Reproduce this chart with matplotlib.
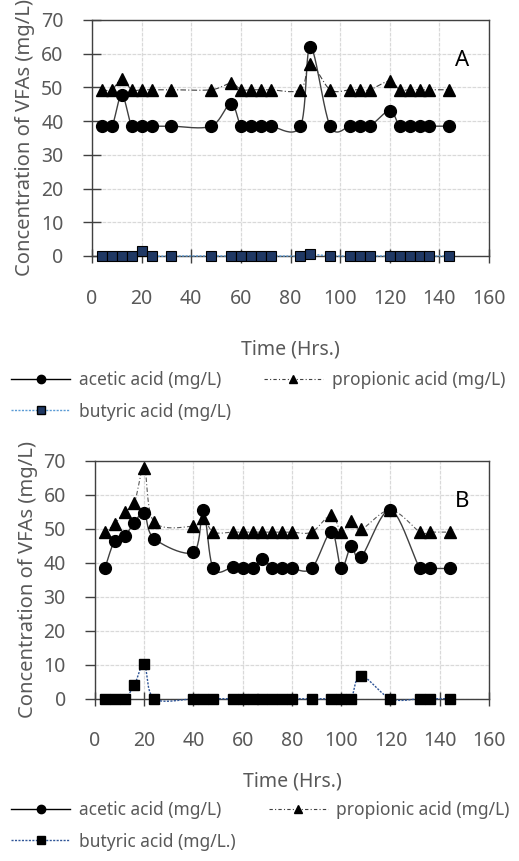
import numpy as np
import matplotlib
matplotlib.use("Agg")
import matplotlib.pyplot as plt
from matplotlib.lines import Line2D

plt.rcParams['font.family'] = ['Noto Sans', 'DejaVu Sans']

# sampling times (hours)
time_a = [4, 8, 12, 16, 20, 24, 32, 48, 56, 60, 64, 68, 72, 84, 88, 96, 104, 108, 112, 120, 124, 128, 132, 136, 144]
time_b = [4, 8, 12, 16, 20, 24, 40, 44, 48, 56, 60, 64, 68, 72, 76, 80, 88, 96, 100, 104, 108, 120, 132, 136, 144]

# concentrations (mg/L)
acetic_a = [38.5, 38.5, 47.8, 38.5, 38.5, 38.5, 38.5, 38.5, 45.2, 38.5, 38.5, 38.5, 38.5,
            38.5, 62.1, 38.5, 38.5, 38.5, 38.5, 43.1, 38.5, 38.5, 38.5, 38.5, 38.5]
propionic_a = [49.3, 49.3, 52.5, 49.3, 49.3, 49.3, 49.3, 49.3, 51.2, 49.3, 49.3, 49.3, 49.3,
               49.3, 57.0, 49.3, 49.3, 49.3, 49.3, 51.9, 49.3, 49.3, 49.3, 49.3, 49.3]
butyric_a = [0, 0, 0, 0, 1.6, 0, 0, 0, 0, 0, 0, 0, 0,
             0, 0.5, 0, 0, 0, 0, 0, 0, 0, 0, 0, 0]

acetic_b = [38.3, 46.5, 47.8, 51.8, 54.7, 47.1, 43.1, 55.5, 38.3, 38.7, 38.3, 38.3, 41.2,
            38.3, 38.3, 38.3, 38.3, 49.1, 38.3, 44.8, 41.6, 55.5, 38.3, 38.3, 38.3]
propionic_b = [49.0, 51.4, 54.9, 57.6, 68.0, 52.0, 50.8, 53.2, 49.0, 49.0, 49.0, 49.0, 49.0,
               49.0, 49.0, 49.0, 49.0, 54.1, 49.0, 52.4, 49.8, 55.5, 49.0, 49.0, 49.0]
butyric_b = [0, 0, 0, 4.0, 10.2, 0, 0, 0, 0, 0, 0, 0, 0,
             0, 0, 0, 0, 0, 0, 0, 6.8, 0, 0, 0, 0]

x_ticks = [0, 20, 40, 60, 80, 100, 120, 140, 160]
y_ticks = [0, 10, 20, 30, 40, 50, 60, 70]

TEXT_GRAY = '#595959'


def smooth(x, y, n=24):
    """Bezier smoothing through every point (spreadsheet 'smoothed line' style)."""
    p = np.column_stack([x, y]).astype(float)
    ext = np.vstack([p[0], p, p[-1]])
    t = np.linspace(0, 1, n)[:, None]
    out = []
    for i in range(len(p) - 1):
        p0, p3 = ext[i + 1], ext[i + 2]
        p1 = p0 + (ext[i + 2] - ext[i]) / 6.0
        p2 = p3 - (ext[i + 3] - ext[i + 1]) / 6.0
        seg = ((1 - t) ** 3) * p0 + 3 * ((1 - t) ** 2) * t * p1 + 3 * (1 - t) * t ** 2 * p2 + t ** 3 * p3
        out.append(seg if i == 0 else seg[1:])
    out = np.vstack(out)
    return out[:, 0], out[:, 1]


def draw_series(ax, x, y, line_kw, marker_kw):
    sx, sy = smooth(x, y)
    ax.plot(sx, sy, clip_on=False, zorder=3, **line_kw)
    ax.plot(x, y, linestyle='none', clip_on=False, zorder=4, **marker_kw)


def style_axes(ax, ytick_dir, ytick_len, xpad, xlabelpad):
    ax.set_xlim(0, 160)
    ax.set_ylim(0, 70)
    ax.set_xticks(x_ticks)
    ax.set_yticks(y_ticks)
    ax.grid(True, color='#d9d9d9', linewidth=0.9, linestyle=(0, (3, 1)))
    ax.set_axisbelow(True)
    for side in ['left', 'bottom', 'top', 'right']:
        ax.spines[side].set_color('#404040')
        ax.spines[side].set_linewidth(1.0)
    ax.tick_params(axis='x', direction='inout', length=10, width=1.0, color='#404040',
                   labelsize=14, labelcolor=TEXT_GRAY, pad=xpad)
    ax.tick_params(axis='y', direction=ytick_dir, length=ytick_len, width=1.0, color='#404040',
                   labelsize=14, labelcolor=TEXT_GRAY, pad=14)
    ax.set_xlabel('Time (Hrs.)', fontsize=14, color=TEXT_GRAY, labelpad=xlabelpad)
    ax.set_ylabel('Concentration of VFAs (mg/L)', fontsize=14.5, color=TEXT_GRAY, labelpad=4)


fig = plt.figure(figsize=(5.19, 8.61), dpi=100)
ax_a = fig.add_axes([0.1773, 0.7027, 0.7649, 0.2741])
ax_b = fig.add_axes([0.1830, 0.1885, 0.7592, 0.2764])

# panel A
style_axes(ax_a, 'inout', 13, 19, 22)
draw_series(ax_a, time_a, propionic_a,
            dict(color='#404040', linewidth=0.8, linestyle=(0, (5, 2, 1, 2))),
            dict(marker='^', markersize=8, color='black'))
draw_series(ax_a, time_a, acetic_a,
            dict(color='#404040', linewidth=1.0, linestyle='-'),
            dict(marker='o', markersize=8.5, color='black'))
draw_series(ax_a, time_a, butyric_a,
            dict(color='#5b9bd5', linewidth=1.0, linestyle=(0, (1.5, 1))),
            dict(marker='s', markersize=6.5, markerfacecolor='#1f3864', markeredgecolor='black',
                 markeredgewidth=0.8))
ax_a.text(0.95, 0.83, 'A', transform=ax_a.transAxes, fontsize=16, ha='right', va='center')

# panel B
style_axes(ax_b, 'out', 7, 18, 15)
draw_series(ax_b, time_b, propionic_b,
            dict(color='#595959', linewidth=0.8, linestyle=(0, (4, 2, 1, 2))),
            dict(marker='^', markersize=8, color='black'))
draw_series(ax_b, time_b, acetic_b,
            dict(color='#404040', linewidth=1.0, linestyle='-'),
            dict(marker='o', markersize=8.5, color='black'))
draw_series(ax_b, time_b, butyric_b,
            dict(color='#2f5597', linewidth=1.0, linestyle=(0, (1.5, 1))),
            dict(marker='s', markersize=7, color='black'))
ax_b.text(0.95, 0.83, 'B', transform=ax_b.transAxes, fontsize=16, ha='right', va='center')


def add_legend(y_top, butyric_face, butyric_line, butyric_label):
    handles = [
        Line2D([], [], color='black', linewidth=1.0, marker='o', markersize=6),
        Line2D([], [], color=butyric_line, linewidth=1.0, linestyle=(0, (1.5, 1)),
               marker='s', markersize=6, markerfacecolor=butyric_face, markeredgecolor='black'),
        Line2D([], [], color='#404040', linewidth=0.8, linestyle=(0, (3, 2, 1, 2)),
               marker='^', markersize=6, markerfacecolor='black', markeredgecolor='black'),
    ]
    labels = ['acetic acid (mg/L)', butyric_label, 'propionic acid (mg/L)']
    leg = fig.legend(handles, labels, loc='upper left', bbox_to_anchor=(0.005, y_top),
                     ncol=2, frameon=False, fontsize=12.5, handlelength=3.4,
                     handletextpad=0.5, columnspacing=1.9, borderpad=0, labelspacing=0.8)
    for txt in leg.get_texts():
        txt.set_color(TEXT_GRAY)
    return leg


add_legend(1 - 362 / 861, '#1f3864', '#5b9bd5', 'butyric acid (mg/L)')
add_legend(1 - 792 / 861, 'black', '#2f5597', 'butyric acid (mg/L.)')

fig.savefig('out.png', dpi=100)
